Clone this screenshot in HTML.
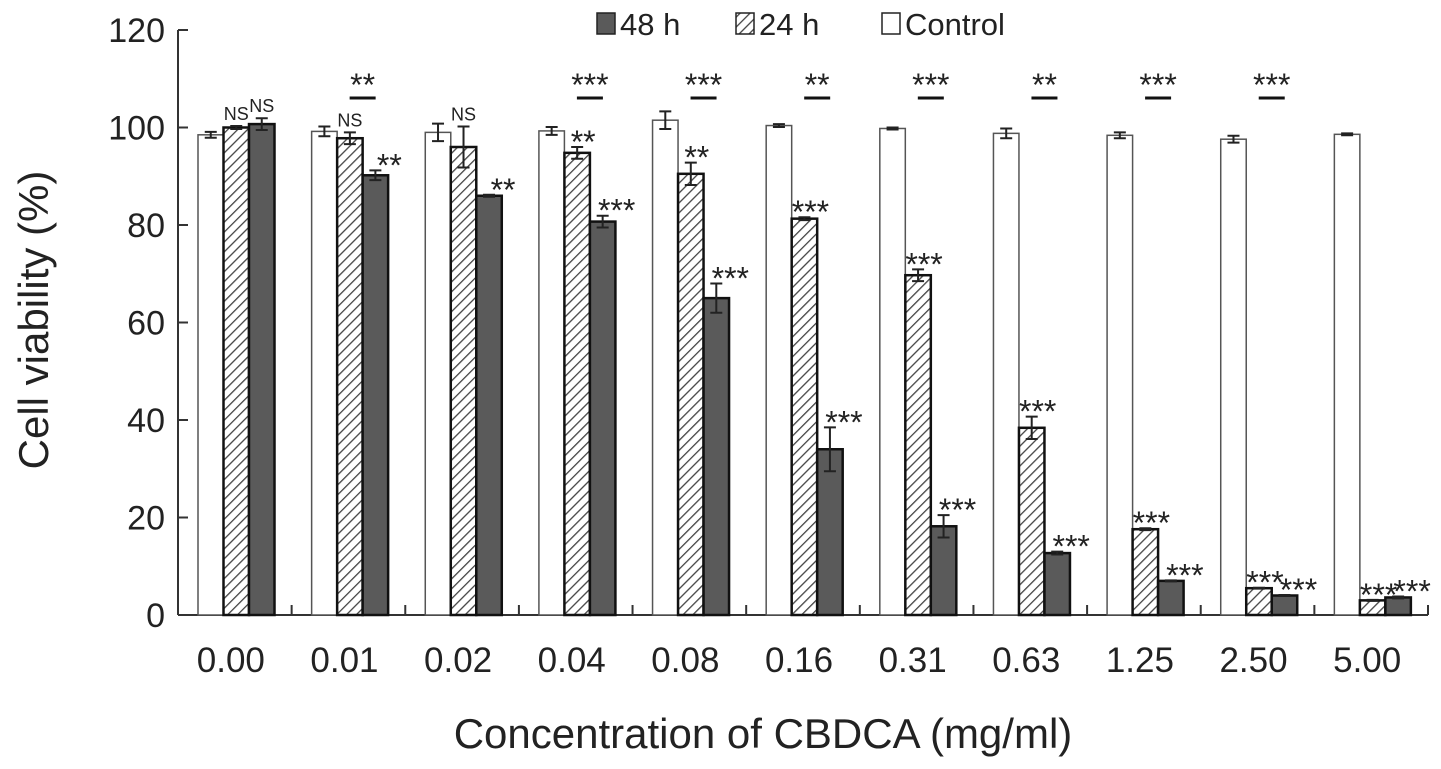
<!DOCTYPE html>
<html><head><meta charset="utf-8"><style>
body{margin:0;background:#fff;}
svg{display:block;font-family:"Liberation Sans",Arial,sans-serif;}
</style></head><body>
<svg id="chart" width="1441" height="769">
<defs>
<pattern id="hatch" patternUnits="userSpaceOnUse" width="7" height="7" patternTransform="rotate(45)">
<rect width="7" height="7" fill="#fff"/><line x1="0" y1="0" x2="0" y2="7" stroke="#444" stroke-width="2.6"/>
</pattern>
</defs>
<g id="plot"></g>
</svg>
<script>
const categories=["0.00","0.01","0.02","0.04","0.08","0.16","0.31","0.63","1.25","2.50","5.00"];
const controlVals=[98.5,99.2,99,99.3,101.5,100.4,99.8,98.8,98.4,97.6,98.6];
const controlErr=[0.6,1,1.8,0.8,1.8,0.3,0.2,1,0.6,0.7,0.2];
const h24Vals=[100,97.8,96,94.8,90.5,81.3,69.7,38.4,17.6,5.5,3];
const h24Err=[0.3,1.2,4.2,1.2,2.3,0.3,1.2,2.3,0.2,0.1,0.1];
const h48Vals=[100.7,90.2,86,80.7,65,34,18.2,12.7,7,4,3.6];
const h48Err=[1.2,1,0.2,1.2,3,4.5,2.3,0.3,0.1,0.1,0.2];
const h24Sig=["NS","NS","NS","**","**","***","***","***","***","***","***"];
const h48Sig=["NS","**","**","***","***","***","***","***","***","***","***"];
const bracketSig=["","**","","***","***","**","***","**","***","***",""];
const yTicks=[0,20,40,60,80,100,120];

const NS="http://www.w3.org/2000/svg";
const g=document.getElementById('plot');
const x0=178,x1=1428,yBase=615,yTop=30,yMax=120;
const catW=(x1-x0)/categories.length;
const barW=25.5;
function y(v){return yBase-(v/yMax)*(yBase-yTop);}
function barX(i,k){return x0+i*catW+20+k*barW;}
function el(tag,attrs,name,inter){const e=document.createElementNS(NS,tag);for(const a in attrs)e.setAttribute(a,attrs[a]);


g.appendChild(e);return e;}
function txt(s,attrs,name){const t=el('text',attrs,name,false);t.textContent=s;return t;}

el('line',{x1:x0,y1:yTop,x2:x0,y2:yBase,stroke:'#333','stroke-width':2},'y-axis');
el('line',{x1:x0,y1:yBase,x2:x1,y2:yBase,stroke:'#333','stroke-width':2},'x-axis');
yTicks.forEach(v=>{
  el('line',{x1:x0,y1:y(v),x2:x0+10,y2:y(v),stroke:'#333','stroke-width':2},'y-tick');
  txt(String(v),{x:165,y:y(v)+12,'text-anchor':'end','font-size':34,fill:'#222'},'y-tick-label');
});
for(let i=1;i<=categories.length;i++){
  const xx=x0+i*catW;
  el('line',{x1:xx,y1:yBase,x2:xx,y2:yBase-10,stroke:'#333','stroke-width':2},'x-tick');
}
const series=[[controlVals,controlErr,'#fff','control'],[h24Vals,h24Err,'url(#hatch)','24h'],[h48Vals,h48Err,'#5a5a5a','48h']];
categories.forEach((c,i)=>{
  series.forEach((s,k)=>{
    const v=s[0][i],e=s[1][i],bx=barX(i,k);
    el('rect',{x:bx,y:y(v),width:barW,height:yBase-y(v),fill:s[2],stroke:k==0?'#555':'#111','stroke-width':k==0?1.5:2.5},'bar-'+s[3]+'-'+c);
    const cx=bx+barW/2;
    el('path',{d:`M${cx},${y(v+e)}V${y(v-e)}M${cx-6},${y(v+e)}H${cx+6}M${cx-6},${y(v-e)}H${cx+6}`,stroke:'#222','stroke-width':2,fill:'none'},'error-bar');
  });
  txt(c,{x:x0+i*catW+catW/2-4,y:672,'text-anchor':'middle','font-size':35,fill:'#222'},'x-tick-label');
  const ns24=h24Sig[i]=="NS",ns48=h48Sig[i]=="NS";
  const c24=barX(i,1)+barW/2,c48=barX(i,2)+barW/2;
  const t24=y(h24Vals[i]+h24Err[i]);
  txt(h24Sig[i],{x:ns24?c24:c24+6,y:ns24?t24-6:t24+6,'text-anchor':'middle','font-size':ns24?18:32,fill:'#222'},'sig-24h');
  const t48=y(h48Vals[i]+h48Err[i]);
  txt(h48Sig[i],{x:ns48?c48:c48+14,y:ns48?t48-6:t48+6,'text-anchor':'middle','font-size':ns48?18:32,fill:'#222'},'sig-48h');
  if(bracketSig[i]){
    const bc=barX(i,2);
    el('line',{x1:bc-13,y1:98,x2:bc+13,y2:98,stroke:'#111','stroke-width':3},'comparison-bracket');
    txt(bracketSig[i],{x:bc,y:96,'text-anchor':'middle','font-size':32,fill:'#222'},'comparison-sig');
  }
});
const leg=[[597,'#5a5a5a','48 h','legend-48h'],[736,'url(#hatch)','24 h','legend-24h'],[882,'#fff','Control','legend-control']];
leg.forEach(l=>{
  el('rect',{x:l[0],y:13,width:18,height:21,fill:l[1],stroke:'#222','stroke-width':1.5},l[3]+'-swatch');
  txt(l[2],{x:l[0]+23,y:35,'font-size':31,fill:'#222'},l[3]+'-label');
});
txt('Concentration of CBDCA (mg/ml)',{x:763,y:748,'text-anchor':'middle','font-size':42,fill:'#222'},'x-axis-title');
txt('Cell viability (%)',{x:0,y:0,'text-anchor':'middle','font-size':42,fill:'#222',transform:'translate(48,320) rotate(-90)'},'y-axis-title');
</script>
</body></html>
